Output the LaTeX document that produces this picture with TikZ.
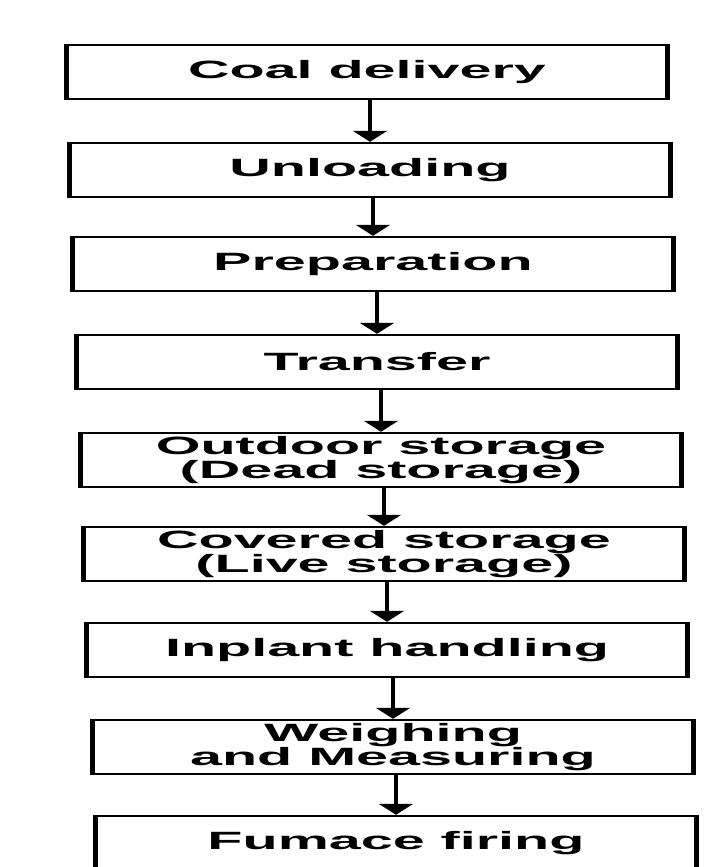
\documentclass[tikz,border=0pt]{standalone}
\usepackage{fontspec}
\usepackage{tikz}
\usetikzlibrary{arrows.meta}
\newfontfamily\boxfont[FakeStretch=2.3]{Liberation Sans}

\begin{document}
\begin{tikzpicture}[x=1pt, y=-1pt,
    stage/.style={draw, line width=2.4pt, minimum width=598pt, minimum height=54pt,
        inner sep=0pt, align=center, font=\boxfont\bfseries\fontsize{25}{22}\selectfont},
    flow/.style={-{Triangle[width=34pt,length=11pt]}, line width=4pt},
    sidebar/.style={line width=5pt}]
    \useasboundingbox (0,0) rectangle (725,867);
    \clip (0,0) rectangle (725,867);
    % Stages
    \node[stage] (deliv)  at (367,72)  {Coal delivery};
    \node[stage] (unload) at (370,170) {Unloading};
    \node[stage] (prep)   at (373,264) {Preparation};
    \node[stage] (trans)  at (377,362) {Transfer};
    \node[stage] (outdoor) at (381,460) {Outdoor storage\\(Dead storage)};
    \node[stage] (covered) at (384,554) {Covered storage\\(Live storage)};
    \node[stage] (inplant) at (387,650) {Inplant handling};
    \node[stage] (weigh)  at (393,747) {Weighing\\and Measuring};
    \node[stage] (firing) at (396,843) {Fumace firing};
    % Heavy side edges
    \foreach \b in {deliv,unload,prep,trans,outdoor,covered,inplant,weigh,firing} {
        \draw[sidebar] (\b.north west) -- (\b.south west);
        \draw[sidebar] (\b.north east) -- (\b.south east);
    }
    % Arrows
    \draw[flow] (deliv.south -| unload.north) -- (unload.north);
    \draw[flow] (unload.south -| prep.north) -- (prep.north);
    \draw[flow] (prep.south -| trans.north) -- (trans.north);
    \draw[flow] (trans.south -| outdoor.north) -- (outdoor.north);
    \draw[flow] (outdoor.south -| covered.north) -- (covered.north);
    \draw[flow] (covered.south -| inplant.north) -- (inplant.north);
    \draw[flow] (inplant.south -| weigh.north) -- (weigh.north);
    \draw[flow] (weigh.south -| firing.north) -- (firing.north);
\end{tikzpicture}
\end{document}
